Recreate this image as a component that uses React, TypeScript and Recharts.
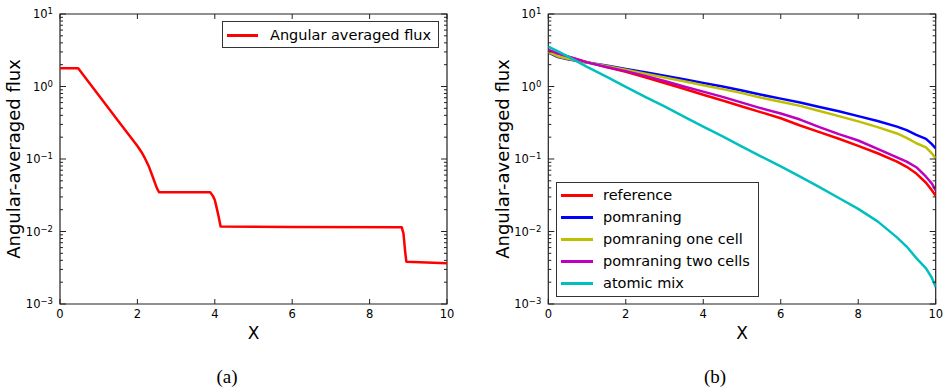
import React from 'react';
import { LineChart, Line, XAxis, YAxis, ReferenceArea, Legend } from 'recharts';

const FONT = '"DejaVu Sans", Verdana, sans-serif';
const AXIS_COLOR = '#222';

// ---------- Panel (a) ----------
const aX = [0, 0.47, 1.0, 1.5, 2.0, 2.1, 2.2, 2.3, 2.4, 2.5, 2.56, 3.88, 3.95, 4.0, 4.05, 4.1, 4.15, 6.0, 8.83, 8.875, 8.92, 8.95, 10];
const aFlux = [1.78, 1.78, 0.757, 0.338, 0.151, 0.126, 0.101, 0.078, 0.056, 0.04, 0.0348, 0.0348, 0.031, 0.0272, 0.021, 0.016, 0.0117, 0.0115, 0.01143, 0.00944, 0.0052, 0.00383, 0.00364];

// ---------- Panel (b) ----------
const bX = [0, 0.25, 0.5, 1, 1.5, 2, 2.5, 3, 3.5, 4, 4.5, 5, 5.5, 6, 6.5, 7, 7.5, 8, 8.5, 9, 9.25, 9.5, 9.75, 9.9, 10];
const reference = [3.15, 2.85, 2.6, 2.17, 1.85, 1.6, 1.34, 1.12, 0.93, 0.77, 0.64, 0.53, 0.44, 0.365, 0.29, 0.235, 0.19, 0.152, 0.12, 0.092, 0.078, 0.063, 0.047, 0.037, 0.031];
const pomraning = [2.95, 2.55, 2.38, 2.15, 1.95, 1.75, 1.57, 1.41, 1.26, 1.12, 1.0, 0.88, 0.77, 0.68, 0.6, 0.52, 0.455, 0.39, 0.335, 0.28, 0.25, 0.215, 0.19, 0.16, 0.14];
const pomraningOneCell = [3.0, 2.6, 2.42, 2.15, 1.92, 1.7, 1.5, 1.33, 1.18, 1.04, 0.92, 0.81, 0.7, 0.615, 0.54, 0.46, 0.39, 0.33, 0.275, 0.225, 0.195, 0.165, 0.145, 0.12, 0.102];
const pomraningTwoCells = [3.2, 2.85, 2.6, 2.15, 1.86, 1.63, 1.4, 1.19, 1.0, 0.85, 0.72, 0.6, 0.5, 0.425, 0.35, 0.275, 0.22, 0.18, 0.138, 0.105, 0.092, 0.077, 0.057, 0.046, 0.037];
const atomicMix = [3.54, 3.05, 2.6, 1.87, 1.37, 0.99, 0.72, 0.53, 0.385, 0.28, 0.205, 0.148, 0.108, 0.079, 0.057, 0.041, 0.029, 0.0205, 0.0138, 0.0083, 0.0062, 0.0043, 0.0031, 0.0023, 0.00172];

// ---------- Axes ----------
const xTicks = [0, 2, 4, 6, 8, 10];
const yDecades = [-3, -2, -1, 0, 1];
const yMinorMultipliers = [1, 2, 3, 4, 5, 6, 7, 8, 9];
const yTicks: number[] = [];
yDecades.forEach((d) => {
  if (d === 1) {
    yTicks.push(10);
  } else {
    yMinorMultipliers.forEach((m) => yTicks.push(parseFloat((m * Math.pow(10, d)).toPrecision(6))));
  }
});

const toRows = (xs: number[], ys: number[]) => xs.map((x, i) => ({ x, y: ys[i] }));

const PLOT_TOP = 14;
const PLOT_BOTTOM = 304;
const CHART_H = 392;

const makeXTick = () => (props: any) => {
  const { x, y, payload } = props;
  return (
    <g>
      <line x1={x} x2={x} y1={y} y2={y - 5} stroke={AXIS_COLOR} strokeWidth={1} />
      <line x1={x} x2={x} y1={PLOT_TOP} y2={PLOT_TOP + 5} stroke={AXIS_COLOR} strokeWidth={1} />
      <text x={x} y={y + 14} textAnchor="middle" fontSize={11.5} fontFamily={FONT} fill="#000">
        {payload.value}
      </text>
    </g>
  );
};

const makeYTick = (plotRight: number) => (props: any) => {
  const { x, y, payload } = props;
  const v = payload.value as number;
  const lg = Math.log10(v);
  const major = Math.abs(lg - Math.round(lg)) < 1e-6;
  const len = major ? 6 : 3;
  const exp = Math.round(lg);
  const expText = exp < 0 ? '\u2212' + String(-exp) : String(exp);
  return (
    <g>
      <line x1={x} x2={x + len} y1={y} y2={y} stroke={AXIS_COLOR} strokeWidth={1} />
      <line x1={plotRight - len} x2={plotRight} y1={y} y2={y} stroke={AXIS_COLOR} strokeWidth={1} />
      {major && (
        <text x={x - 7} y={y + 4.2} textAnchor="end" fontSize={11.5} fontFamily={FONT} fill="#000">
          <tspan>10</tspan>
          <tspan dy={-4} fontSize={8.5}>{expText}</tspan>
        </text>
      )}
    </g>
  );
};

type LegendCfg = {
  width: number;
  height: number;
  rowStart: number;
  rowStep: number;
  sampleX: number;
  sampleW: number;
  textX: number;
};

type SeriesDef = { name: string; color: string; xs: number[]; ys: number[] };

const makeLegendContent = (cfg: LegendCfg, series: SeriesDef[]) => (props: any) => {
  const payload = (props.payload || []) as any[];
  const ordered = series.map((s) => {
    const hit = payload.find((e) => e.value === s.name);
    return { value: s.name, color: hit ? hit.color : s.color };
  });
  return (
    <div
      style={{
        position: 'relative',
        width: cfg.width,
        height: cfg.height,
        boxSizing: 'border-box',
        border: '1px solid #333',
        background: '#fff',
        fontFamily: FONT,
        fontSize: 14.5,
        color: '#000',
      }}
    >
      {ordered.map((entry, i) => {
        const cy = Math.round(cfg.rowStart + i * cfg.rowStep - 1);
        return (
          <React.Fragment key={i}>
            <div
              style={{
                position: 'absolute',
                left: cfg.sampleX - 1,
                top: cy - 1,
                width: cfg.sampleW,
                height: 3,
                background: entry.color,
              }}
            />
            <div
              style={{
                position: 'absolute',
                left: cfg.textX - 1,
                top: cy - 10,
                height: 20,
                lineHeight: '20px',
                whiteSpace: 'nowrap',
              }}
            >
              {entry.value}
            </div>
          </React.Fragment>
        );
      })}
    </div>
  );
};

type PanelProps = {
  left: number;
  width: number;
  plotLeft: number;
  plotRight: number;
  yLabelX: number;
  series: SeriesDef[];
  legendLeft: number;
  legendTop: number;
  legendCfg: LegendCfg;
};

const Panel = (p: PanelProps) => {
  const xTick = makeXTick();
  const yTick = makeYTick(p.plotRight);
  return (
    <div style={{ position: 'absolute', left: p.left, top: 0 }}>
      <LineChart
        width={p.width}
        height={CHART_H}
        margin={{ top: PLOT_TOP, right: p.width - p.plotRight, bottom: CHART_H - PLOT_BOTTOM - 30, left: 0 }}
      >
        <XAxis
          dataKey="x"
          type="number"
          domain={[0, 10]}
          ticks={xTicks}
          interval={0}
          allowDataOverflow
          height={30}
          tickSize={0}
          tickMargin={0}
          tickLine={false}
          axisLine={false}
          tick={xTick}
          label={{
            content: (lp: any) => {
              const vb = lp.viewBox || {};
              return (
                <text
                  x={vb.x + vb.width / 2}
                  y={PLOT_BOTTOM + 34.5}
                  textAnchor="middle"
                  fontSize={17}
                  fontFamily={FONT}
                  fill="#000"
                >
                  X
                </text>
              );
            },
          }}
        />
        <YAxis
          dataKey="y"
          type="number"
          scale="log"
          domain={[0.001, 10]}
          ticks={yTicks}
          interval={0}
          allowDataOverflow
          width={p.plotLeft}
          tickSize={0}
          tickMargin={0}
          tickLine={false}
          axisLine={false}
          tick={yTick}
          label={{
            content: () => {
              const cx = p.yLabelX;
              const cy = (PLOT_TOP + PLOT_BOTTOM) / 2;
              return (
                <text
                  x={cx}
                  y={cy}
                  transform={`rotate(-90, ${cx}, ${cy})`}
                  textAnchor="middle"
                  fontSize={18}
                  fontFamily={FONT}
                  fill="#000"
                >
                  Angular-averaged flux
                </text>
              );
            },
          }}
        />
        {p.series.map((s) => (
          <Line
            key={s.name}
            name={s.name}
            data={toRows(s.xs, s.ys)}
            dataKey="y"
            type="linear"
            stroke={s.color}
            strokeWidth={2.5}
            dot={false}
            activeDot={false}
            isAnimationActive={false}
            strokeLinejoin="round"
          />
        ))}
        <ReferenceArea
          x1={0}
          x2={10}
          y1={0.001}
          y2={10}
          fill="none"
          fillOpacity={0}
          stroke={AXIS_COLOR}
          strokeWidth={1.2}
          ifOverflow="visible"
        />
        <Legend
          layout="vertical"
          align="center"
          verticalAlign="middle"
          content={makeLegendContent(p.legendCfg, p.series)}
          wrapperStyle={{
            left: p.legendLeft,
            top: p.legendTop,
            right: 'auto',
            bottom: 'auto',
            width: p.legendCfg.width,
            height: p.legendCfg.height,
          }}
        />
      </LineChart>
    </div>
  );
};

const seriesA: SeriesDef[] = [{ name: 'Angular averaged flux', color: '#ff0000', xs: aX, ys: aFlux }];

const seriesB: SeriesDef[] = [
  { name: 'reference', color: '#ff0000', xs: bX, ys: reference },
  { name: 'pomraning', color: '#0000ff', xs: bX, ys: pomraning },
  { name: 'pomraning one cell', color: '#bfbf00', xs: bX, ys: pomraningOneCell },
  { name: 'pomraning two cells', color: '#bf00bf', xs: bX, ys: pomraningTwoCells },
  { name: 'atomic mix', color: '#00bfbf', xs: bX, ys: atomicMix },
];

export default function App() {
  return (
    <div
      style={{
        position: 'absolute',
        left: 0,
        top: 0,
        width: 945,
        height: 392,
        background: '#fff',
        overflow: 'hidden',
      }}
    >
      <Panel
        left={0}
        width={470}
        plotLeft={60}
        plotRight={447}
        yLabelX={19.8}
        series={seriesA}
        legendLeft={222}
        legendTop={21}
        legendCfg={{ width: 217, height: 27, rowStart: 13.5, rowStep: 22, sampleX: 5, sampleW: 31, textX: 48 }}
      />
      <Panel
        left={470}
        width={475}
        plotLeft={78.3}
        plotRight={465.7}
        yLabelX={39}
        series={seriesB}
        legendLeft={86}
        legendTop={182}
        legendCfg={{ width: 203, height: 115, rowStart: 12.5, rowStep: 22.2, sampleX: 5, sampleW: 32, textX: 47 }}
      />
      <div
        style={{
          position: 'absolute',
          left: 177,
          width: 100,
          top: 367,
          textAlign: 'center',
          fontFamily: '"Liberation Serif", "Times New Roman", serif',
          fontSize: 19,
          lineHeight: '20px',
          color: '#000',
        }}
      >
        (a)
      </div>
      <div
        style={{
          position: 'absolute',
          left: 665,
          width: 100,
          top: 367,
          textAlign: 'center',
          fontFamily: '"Liberation Serif", "Times New Roman", serif',
          fontSize: 19,
          lineHeight: '20px',
          color: '#000',
        }}
      >
        (b)
      </div>
    </div>
  );
}
